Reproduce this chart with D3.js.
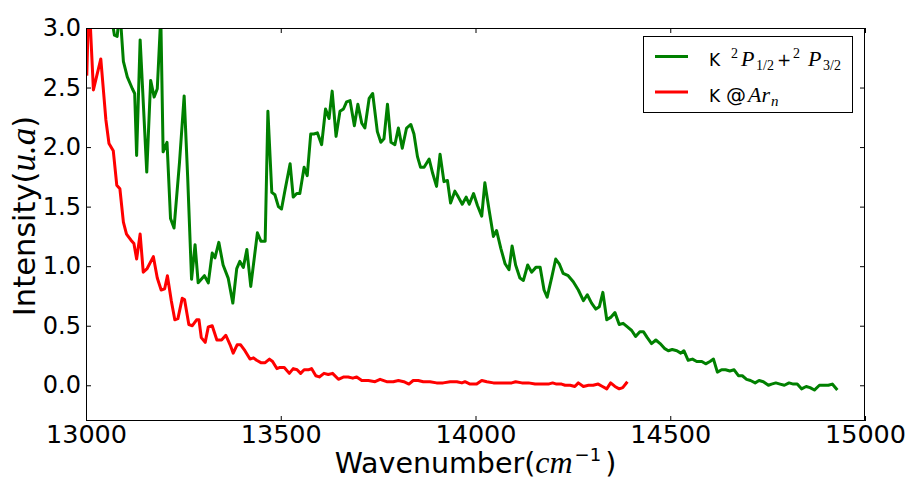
<!DOCTYPE html>
<html>
<head>
<meta charset="utf-8">
<script src="https://cdn.jsdelivr.net/npm/d3@7"></script>
<style>
  html, body { margin: 0; padding: 0; background: #fff; }
  svg { display: block; }
  text { font-family: "DejaVu Sans", sans-serif; fill: #000; }
</style>
</head>
<body>
<svg id="chart" width="909" height="479"></svg>
<script>
// ---- data ----
const xTicks = [13000, 13500, 14000, 14500, 15000];
const yTicks = [0.0, 0.5, 1.0, 1.5, 2.0, 2.5, 3.0];

const greenWn = [13069,13073,13080,13087,13096,13106,13119,13125,13130,13139,13156,13166,13175,13183,13192,13198,13208,13217,13226,13240,
  13252,13261,13271,13280,13288,13304,13314,13324,13331,13341,13352,13365,13377,13387,13395,13404,13413,13423,13440,13449,
  13460,13467,13477,13485,13494,13502,13511,13524,13532,13541,13549,13560,13568,13577,13585,13594,13605,13615,13624,13632,
  13642,13652,13661,13669,13678,13689,13698,13708,13716,13727,13736,13748,13757,13765,13774,13783,13793,13802,13812,13823,
  13834,13842,13851,13859,13868,13881,13890,13900,13909,13919,13928,13936,13947,13956,13966,13976,13984,13995,14005,14016,
  14024,14035,14046,14054,14065,14076,14086,14094,14103,14114,14123,14134,14144,14155,14166,14176,14184,14196,14206,14215,
  14225,14238,14251,14264,14277,14287,14298,14309,14318,14327,14337,14347,14358,14369,14379,14390,14401,14411,14422,14431,
  14441,14452,14463,14474,14485,14495,14505,14517,14527,14535,14546,14557,14568,14581,14591,14602,14611,14621,14632,14642,
  14653,14664,14675,14685,14696,14706,14718,14728,14739,14752,14760,14771,14782,14793,14805,14816,14826,14837,14849,14859,
  14870,14883,14893,14906,14916,14929];
const greenI = [3.02,2.94,2.93,3.15,2.72,2.59,2.49,2.45,1.93,2.90,1.79,2.56,2.42,2.49,3.10,1.96,2.04,1.40,1.32,1.87,
  2.43,1.75,0.89,1.18,0.86,0.92,0.86,1.11,1.07,1.20,1.01,0.90,0.69,0.98,1.04,0.99,1.14,0.83,1.28,1.21,
  1.21,2.30,1.62,1.60,1.50,1.48,1.64,1.86,1.58,1.61,1.61,1.83,1.76,2.11,2.11,2.12,2.02,2.32,2.24,2.47,
  2.09,2.30,2.32,2.38,2.39,2.18,2.36,2.20,2.16,2.41,2.45,2.13,2.04,2.07,2.36,2.04,2.02,2.16,1.99,2.16,
  2.19,2.11,1.92,1.83,1.83,1.90,1.78,1.67,1.94,1.71,1.72,1.53,1.63,1.58,1.52,1.58,1.52,1.61,1.51,1.42,
  1.70,1.47,1.25,1.30,1.15,1.02,0.97,1.17,1.01,0.90,0.88,1.01,0.95,0.99,0.99,0.80,0.74,0.91,1.06,1.02,
  0.94,0.92,0.87,0.80,0.71,0.76,0.69,0.64,0.66,0.78,0.55,0.57,0.61,0.51,0.52,0.49,0.46,0.41,0.45,0.45,
  0.40,0.35,0.38,0.35,0.31,0.29,0.30,0.29,0.27,0.29,0.21,0.22,0.20,0.20,0.18,0.20,0.22,0.11,0.13,0.13,
  0.12,0.13,0.08,0.08,0.05,0.04,0.02,0.04,0.03,0.00,0.01,0.02,0.01,0.00,0.02,0.01,0.01,-0.03,-0.01,-0.02,
  -0.04,0.00,0.00,0.00,0.01,-0.04];

const redWn = [13002,13006,13010,13019,13038,13051,13059,13070,13079,13087,13096,13104,13115,13123,13130,13139,13147,13157,13173,13183,
  13193,13202,13209,13219,13228,13236,13247,13253,13264,13273,13284,13290,13296,13306,13314,13324,13336,13348,13359,13370,
  13378,13388,13397,13408,13421,13430,13438,13449,13460,13471,13479,13490,13498,13509,13522,13532,13542,13551,13560,13571,
  13579,13590,13599,13611,13622,13633,13648,13662,13673,13685,13695,13708,13725,13742,13755,13772,13789,13802,13816,13829,
  13840,13853,13866,13883,13900,13917,13935,13952,13965,13973,13986,14003,14016,14029,14046,14063,14080,14093,14103,14119,
  14136,14153,14170,14187,14198,14208,14221,14230,14243,14255,14264,14277,14290,14302,14315,14326,14337,14347,14358,14369,
  14378,14390];
const redI = [2.60,3.10,3.10,2.48,2.74,2.23,2.03,1.97,1.68,1.65,1.37,1.27,1.22,1.19,1.06,1.27,0.95,0.98,1.08,0.90,
  0.80,0.81,0.92,0.71,0.55,0.56,0.73,0.72,0.51,0.50,0.55,0.55,0.40,0.36,0.49,0.50,0.38,0.38,0.42,0.34,
  0.27,0.34,0.34,0.29,0.22,0.23,0.21,0.19,0.19,0.22,0.20,0.14,0.15,0.15,0.10,0.14,0.13,0.10,0.13,0.13,
  0.14,0.08,0.07,0.10,0.09,0.10,0.05,0.07,0.07,0.06,0.07,0.04,0.04,0.03,0.05,0.03,0.03,0.04,0.03,0.01,
  0.04,0.04,0.03,0.03,0.02,0.02,0.03,0.03,0.02,0.03,0.01,0.01,0.04,0.03,0.02,0.02,0.02,0.02,0.03,0.02,
  0.02,0.01,0.01,0.01,0.02,0.01,0.01,0.00,0.00,-0.01,0.02,-0.01,0.00,0.00,0.01,-0.01,-0.03,0.02,-0.01,-0.03,
  -0.02,0.03];

const seriesColors = ["#008000", "#ff0000"];

(function () {
const svg = d3.select("#chart");
const mLeft = 86, mRight = 865, mTop = 28, mBottom = 421;
const x = d3.scaleLinear().domain([13000, 15000]).range([mLeft, mRight]);
const y = d3.scaleLinear().domain([-0.3, 3.0]).range([mBottom, mTop]);

svg.append("defs").append("clipPath").attr("id", "plotclip")
  .append("rect").attr("x", mLeft).attr("y", mTop).attr("width", mRight - mLeft).attr("height", mBottom - mTop);

const line = d3.line().x(d => x(d[0])).y(d => y(d[1]));
const green = greenWn.map((w, i) => [w, greenI[i]]);
const red = redWn.map((w, i) => [w, redI[i]]);

const plot = svg.append("g").attr("clip-path", "url(#plotclip)");
plot.append("path").datum(green).attr("d", line)
  .attr("fill", "none").attr("stroke", seriesColors[0]).attr("stroke-width", 3).attr("stroke-linejoin", "round");
plot.append("path").datum(red).attr("d", line)
  .attr("fill", "none").attr("stroke", seriesColors[1]).attr("stroke-width", 3).attr("stroke-linejoin", "round");

// axes (inward ticks on all sides)
const tickLen = 5;
const xAxisB = d3.axisBottom(x).tickValues(xTicks).tickSizeInner(-tickLen).tickSizeOuter(0).tickPadding(4).tickFormat(d3.format("d"));
const xAxisT = d3.axisTop(x).tickValues(xTicks).tickSizeInner(-tickLen).tickSizeOuter(0).tickFormat("");
const yAxisL = d3.axisLeft(y).tickValues(yTicks).tickSizeInner(-tickLen).tickSizeOuter(0).tickPadding(5).tickFormat(d3.format(".1f"));
const yAxisR = d3.axisRight(y).tickValues(yTicks).tickSizeInner(-tickLen).tickSizeOuter(0).tickFormat("");

const gxb = svg.append("g").attr("transform", `translate(0,${mBottom})`).call(xAxisB);
const gxt = svg.append("g").attr("transform", `translate(0,${mTop})`).call(xAxisT);
const gyl = svg.append("g").attr("transform", `translate(${mLeft},0)`).call(yAxisL);
const gyr = svg.append("g").attr("transform", `translate(${mRight},0)`).call(yAxisR);
[gxb, gxt, gyl, gyr].forEach(g => {
  g.select(".domain").remove();
  g.selectAll(".tick line").attr("stroke", "#000").attr("stroke-width", 1);
});
gxb.selectAll(".tick text").attr("font-family", "DejaVu Sans").attr("font-size", 25.5).attr("fill", "#000");
gyl.selectAll(".tick text").attr("font-family", "DejaVu Sans").attr("font-size", 24).attr("fill", "#000");

// frame
svg.append("rect").attr("x", mLeft + 0.5).attr("y", mTop + 0.5)
  .attr("width", mRight - mLeft - 1).attr("height", mBottom - mTop - 1)
  .attr("fill", "none").attr("stroke", "#000").attr("stroke-width", 1);

const serif = "Liberation Serif";
function rich(sel, parts) {
  parts.forEach(p => {
    const t = sel.append("tspan").text(p.t);
    if (p.it) t.attr("font-family", serif).attr("font-style", "italic");
    if (p.rm) t.attr("font-family", serif);
    if (p.fs) t.attr("font-size", p.fs);
    if (p.x !== undefined) t.attr("x", p.x);
    if (p.dy) t.attr("dy", p.dy);
    if (p.dx) t.attr("dx", p.dx);
  });
}

// axis labels
const xl = svg.append("text").attr("x", (mLeft + mRight) / 2).attr("y", 472.5)
  .attr("text-anchor", "middle").attr("font-size", 28.5);
rich(xl, [{t: "Wavenumber("}, {t: "cm", it: true, fs: 32}, {t: "\u22121", fs: 18, dy: -12, dx: 2}, {t: ")", dy: 12, dx: 4}]);

const yl = svg.append("text").attr("transform", `translate(35,216) rotate(-90)`)
  .attr("text-anchor", "middle").attr("font-size", 30.5);
rich(yl, [{t: "Intensity("}, {t: "u.a", it: true, fs: 35}, {t: ")"}]);

// legend
const lg = svg.append("g");
lg.append("rect").attr("x", 643.5).attr("y", 36.5).attr("width", 209).attr("height", 76)
  .attr("fill", "#fff").attr("stroke", "#000").attr("stroke-width", 1);
const legendRows = [
  {color: seriesColors[0], parts: [
    {t: "K", x: 709}, {t: "2", rm: true, fs: 14, x: 731, dy: -8},
    {t: "P", it: true, fs: 22, x: 741, dy: 8}, {t: "1/2", rm: true, fs: 14, x: 756, dy: 4},
    {t: "+", x: 777, dy: -4}, {t: "2", rm: true, fs: 14, x: 793, dy: -8},
    {t: "P", it: true, fs: 22, x: 808, dy: 8}, {t: "3/2", rm: true, fs: 14, x: 823, dy: 4}]},
  {color: seriesColors[1], parts: [
    {t: "K", x: 709}, {t: "@", fs: 20, x: 726}, {t: "Ar", it: true, fs: 22, x: 748},
    {t: "n", it: true, fs: 15, x: 771, dy: 4}]}
];
legendRows.forEach((r, i) => {
  const yy = 56.5 + i * 35.5;
  lg.append("line").attr("x1", 655).attr("x2", 688).attr("y1", yy).attr("y2", yy)
    .attr("stroke", r.color).attr("stroke-width", 3);
  const t = lg.append("text").attr("x", 709).attr("y", yy + 9.5).attr("font-size", 17);
  rich(t, r.parts);
});
})();
</script>
</body>
</html>
